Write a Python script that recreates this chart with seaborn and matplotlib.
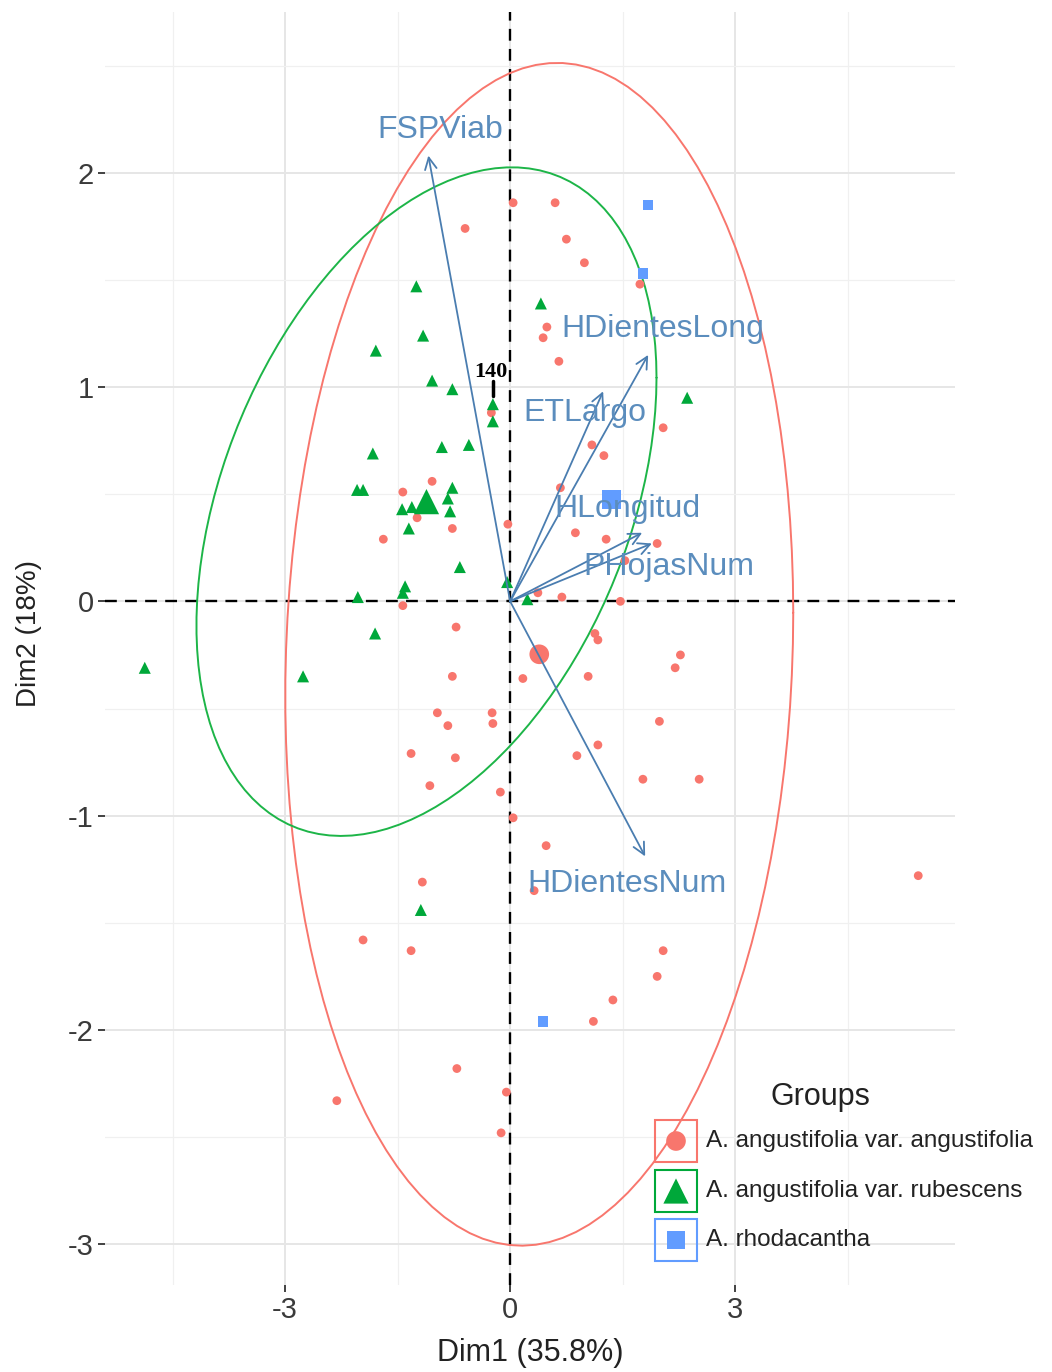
import numpy as np
import pandas as pd
import matplotlib
matplotlib.use("Agg")
import matplotlib.pyplot as plt
from matplotlib.patches import Rectangle
from matplotlib.ticker import MultipleLocator
import seaborn as sns

# ---- individuals (PCA scores, Dim1 / Dim2) ----
angus_x = [0.04, -0.60, 0.60, 0.75, 0.99, 1.73, 0.49, 0.44, 0.65, 2.04,
           -0.25, 1.09, 1.25, 0.67, -0.03, 0.87, 1.28, 1.96, 1.53, 0.37,
           0.69, 1.47, 1.13, 1.17, 2.27, 2.20, 0.17, 1.04, -0.24, -0.23,
           1.99, 1.17, 0.89, -1.32, -0.73, -1.07, -0.13, 0.04, 1.77, 2.52,
           0.48, -1.17, 0.32, -1.96, -1.32, 2.04, 1.96, 1.37, 1.11, -0.71,
           -2.31, -0.05, -0.12, 5.44, -1.04, -1.43, -1.24, -1.69, -0.77, -1.43,
           -0.72, -0.77, -0.97, -0.83]
angus_y = [1.86, 1.74, 1.86, 1.69, 1.58, 1.48, 1.28, 1.23, 1.12, 0.81,
           0.88, 0.73, 0.68, 0.53, 0.36, 0.32, 0.29, 0.27, 0.19, 0.04,
           0.02, 0.00, -0.15, -0.18, -0.25, -0.31, -0.36, -0.35, -0.52, -0.57,
           -0.56, -0.67, -0.72, -0.71, -0.73, -0.86, -0.89, -1.01, -0.83, -0.83,
           -1.14, -1.31, -1.35, -1.58, -1.63, -1.63, -1.75, -1.86, -1.96, -2.18,
           -2.33, -2.29, -2.48, -1.28, 0.56, 0.51, 0.39, 0.29, 0.34, -0.02,
           -0.12, -0.35, -0.52, -0.58]

rubes_x = [-4.87, -2.76, -1.25, -1.16, -1.79, -1.04, -0.77, -0.23, -0.23, -0.91,
           -0.55, -1.83, -2.04, -1.96, -1.31, -1.44, -0.77, -0.83, -0.80, -1.35,
           -0.67, -0.04, 0.23, -1.40, -1.43, -2.03, -1.80, -1.19, 0.41, 2.36]
rubes_y = [-0.31, -0.35, 1.47, 1.24, 1.17, 1.03, 0.99, 0.92, 0.84, 0.72,
           0.73, 0.69, 0.52, 0.52, 0.44, 0.43, 0.53, 0.48, 0.42, 0.34,
           0.16, 0.09, 0.01, 0.07, 0.04, 0.02, -0.15, -1.44, 1.39, 0.95]

rhoda_x = [1.84, 1.77, 0.44]
rhoda_y = [1.85, 1.53, -1.96]

groups = ["A. angustifolia var. angustifolia",
          "A. angustifolia var. rubescens",
          "A. rhodacantha"]

# ---- variables (loadings scaled for the biplot) ----
var_names = ["FSPViab", "HDientesLong", "ETLargo", "HLongitud", "PHojasNum", "HDientesNum"]
var_x = [-1.09, 1.84, 1.24, 1.76, 1.89, 1.80]
var_y = [2.08, 1.15, 0.98, 0.32, 0.27, -1.19]

# label nudges relative to arrow tips
label_dx = [0.16, 0.19, -0.24, -0.19, 0.22, -0.24]
label_dy = [0.12, 0.12, -0.10, 0.11, -0.11, -0.13]

palette = {groups[0]: "#F8766D", groups[1]: "#00A83A", groups[2]: "#619CFF"}
ellipse_cols = {groups[0]: "#F8766D", groups[1]: "#1DB548"}
markers = {groups[0]: "o", groups[1]: "^", groups[2]: "s"}
pt_sizes = {groups[0]: 40, groups[1]: 75, groups[2]: 55}
cen_sizes = {groups[0]: 200, groups[1]: 330, groups[2]: 190}
arrow_col = "#4A7DB0"
label_col = "#5B8DBD"

df = pd.concat([
    pd.DataFrame({"Dim1": angus_x, "Dim2": angus_y, "group": groups[0]}),
    pd.DataFrame({"Dim1": rubes_x, "Dim2": rubes_y, "group": groups[1]}),
    pd.DataFrame({"Dim1": rhoda_x, "Dim2": rhoda_y, "group": groups[2]}),
], ignore_index=True)
centroids = df.groupby("group", sort=False)[["Dim1", "Dim2"]].mean().reset_index()


def norm_ellipse(x, y, level=0.95, segments=120):
    """Normal-theory data ellipse (as in stat_ellipse(type='norm'))."""
    pts = np.column_stack([x, y])
    n = len(pts)
    center = pts.mean(axis=0)
    cov = np.cov(pts, rowvar=False)
    d2 = n - 1
    qf = d2 / 2.0 * ((1 - level) ** (-2.0 / d2) - 1)  # F quantile, dfn = 2
    radius = np.sqrt(2 * qf)
    chol = np.linalg.cholesky(cov).T
    t = np.linspace(0, 2 * np.pi, segments)
    circ = np.column_stack([np.cos(t), np.sin(t)])
    return center + radius * circ @ chol


sns.set_theme(style="white")
plt.rcParams["font.family"] = ["Liberation Sans", "DejaVu Sans"]
plt.rcParams["axes.unicode_minus"] = False

fig = plt.figure(figsize=(10.52, 13.72), dpi=100)
ax = fig.add_axes([105 / 1052, 87 / 1372, 850 / 1052, 1273 / 1372])

ax.set_xlim(-5.40, 5.93)
ax.set_ylim(-3.19, 2.75)

# grid
ax.xaxis.set_major_locator(MultipleLocator(3))
ax.xaxis.set_minor_locator(MultipleLocator(1.5))
ax.yaxis.set_major_locator(MultipleLocator(1))
ax.yaxis.set_minor_locator(MultipleLocator(0.5))
ax.grid(which="major", color="#E6E6E6", lw=1.4, zorder=0)
ax.grid(which="minor", color="#F0F0F0", lw=0.9, zorder=0)
ax.set_axisbelow(True)
for s in ax.spines.values():
    s.set_visible(False)

# reference lines
ax.axhline(0, color="black", ls=(0, (5, 3.5)), lw=1.7, zorder=1)
ax.axvline(0, color="black", ls=(0, (5, 3.5)), lw=1.7, zorder=1)

# concentration ellipses
for g in groups[:2]:
    sub = df[df["group"] == g]
    e = norm_ellipse(sub["Dim1"].values, sub["Dim2"].values)
    ax.plot(e[:, 0], e[:, 1], color=ellipse_cols[g], lw=1.4, zorder=2)

# individuals
sns.scatterplot(data=df, x="Dim1", y="Dim2", hue="group", style="group",
                size="group", sizes=pt_sizes, markers=markers, palette=palette,
                edgecolor="none", linewidth=0, legend=False, ax=ax, zorder=3)
sns.scatterplot(data=centroids, x="Dim1", y="Dim2", hue="group", style="group",
                size="group", sizes=cen_sizes, markers=markers, palette=palette,
                edgecolor="none", linewidth=0, legend=False, ax=ax, zorder=3)

# variable arrows and labels
for name, vx, vy, dx, dy in zip(var_names, var_x, var_y, label_dx, label_dy):
    ax.annotate("", xy=(vx, vy), xytext=(0, 0),
                arrowprops=dict(arrowstyle="->,head_length=0.7,head_width=0.35",
                                color=arrow_col, lw=1.3, shrinkA=0, shrinkB=0),
                zorder=4)
    ax.text(vx + dx, vy + dy, name, color=label_col, fontsize=23,
            ha="center", va="center", zorder=5)

# labelled individual
lab_x, lab_y = rubes_x[7], rubes_y[7]
ax.plot([lab_x, lab_x], [lab_y + 0.04, lab_y + 0.11], color="black", lw=2.5, zorder=5)
ax.text(lab_x - 0.02, lab_y + 0.15, "140", family="Liberation Serif",
        fontweight="bold", fontsize=16, color="black", ha="center", va="center",
        zorder=6)

# axes labels and ticks
ax.set_xticks([-3, 0, 3])
ax.set_yticks([-3, -2, -1, 0, 1, 2])
ax.tick_params(axis="both", which="major", length=5, width=1.3, color="#333333",
               labelsize=21, labelcolor="#3A3A3A", bottom=True, left=True, pad=3)
ax.tick_params(which="minor", length=0)
ax.set_xlabel("Dim1 (35.8%)", fontsize=22, color="#222222", labelpad=10)
ax.set_ylabel("Dim2 (18%)", fontsize=20, color="#222222")
ax.yaxis.set_label_coords(-0.074, 0.512)

# legend
lax = fig.add_axes([0, 0, 1, 1])
lax.set_xlim(0, 1052)
lax.set_ylim(1372, 0)
lax.axis("off")
lax.patch.set_alpha(0)
lax.text(770, 1097, "Groups", fontsize=22, color="#222222", ha="left", va="center")
key_y = [1141, 1191, 1240]
for g, ky in zip(groups, key_y):
    col = palette[g]
    lax.add_patch(Rectangle((655, ky - 21), 42, 42, fill=False, ec=col, lw=1.5))
    msize = {"o": 200, "^": 330, "s": 170}[markers[g]]
    lax.scatter([676], [ky], marker=markers[g], s=msize, color=col, edgecolor="none")
    lax.text(706, ky, g, fontsize=17.5, color="#222222", ha="left", va="center")

fig.savefig("out.png", dpi=100)
